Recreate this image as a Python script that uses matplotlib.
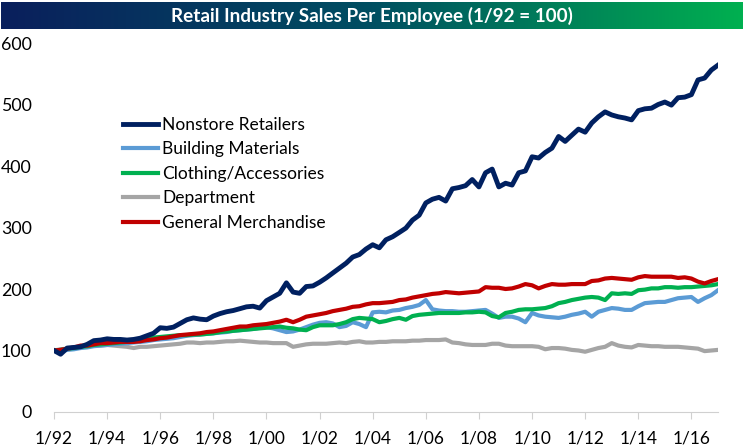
import numpy as np
import pandas as pd
import matplotlib
matplotlib.use('Agg')
import matplotlib.pyplot as plt
import matplotlib.dates as mdates
from matplotlib.colors import LinearSegmentedColormap
from matplotlib.ticker import FuncFormatter, MultipleLocator

# quarterly readings, 1/92 .. 1/17
dates = pd.date_range('1992-01-01', periods=101, freq='QS')

nonstore = [100, 94, 104, 105, 106, 110, 116, 117, 119, 118, 118, 117,
            118, 120, 124, 128, 137, 136, 138, 144, 150, 153, 151, 150,
            156, 160, 163, 165, 168, 171, 172, 169, 181, 187, 193, 210,
            195, 193, 204, 205, 211, 218, 226, 234, 242, 252, 256, 265,
            272, 267, 280, 285, 292, 299, 312, 320, 340, 346, 349, 343,
            363, 365, 368, 378, 366, 389, 395, 366, 372, 369, 389, 392,
            415, 413, 422, 429, 448, 440, 450, 460, 455, 470, 480, 488,
            483, 480, 478, 475, 490, 493, 494, 500, 504, 499, 511, 512,
            516, 540, 543, 556, 564]

building = [100, 99, 101, 102, 104, 105, 107, 108, 109, 110, 111, 112,
            113, 114, 115, 117, 118, 119, 120, 122, 124, 125, 126, 127,
            128, 129, 130, 132, 133, 134, 135, 137, 138, 136, 133, 130,
            131, 134, 138, 142, 145, 146, 144, 138, 140, 146, 143, 138,
            162, 163, 162, 165, 166, 169, 171, 174, 182, 167, 165, 164,
            164, 163, 163, 164, 165, 166, 160, 153, 155, 155, 152, 146,
            161, 157, 155, 154, 153, 155, 158, 160, 163, 155, 163, 166,
            169, 168, 166, 166, 172, 177, 178, 179, 179, 182, 185, 186,
            187, 179, 185, 190, 198]

clothing = [100, 101, 103, 104, 106, 107, 109, 110, 111, 112, 113, 114,
            115, 117, 119, 121, 122, 123, 124, 125, 125, 126, 126, 127,
            128, 130, 131, 132, 133, 134, 135, 136, 137, 138, 139, 137,
            136, 134, 133, 138, 141, 141, 141, 143, 146, 151, 153, 152,
            151, 146, 148, 151, 153, 150, 156, 158, 159, 160, 161, 161,
            161, 161, 162, 162, 163, 162, 156, 154, 161, 163, 166, 167,
            167, 168, 169, 172, 177, 179, 182, 184, 186, 187, 186, 182,
            193, 192, 193, 192, 198, 199, 201, 201, 203, 203, 202, 203,
            203, 204, 205, 206, 208]

department = [100, 102, 103, 104, 106, 107, 108, 108, 109, 108, 107, 106,
              104, 106, 106, 107, 108, 109, 110, 111, 113, 113, 112, 113,
              113, 114, 115, 115, 116, 115, 114, 113, 113, 112, 112, 112,
              106, 108, 110, 111, 111, 111, 112, 113, 112, 114, 115, 113,
              113, 114, 114, 115, 115, 115, 116, 116, 117, 117, 117, 118,
              113, 112, 110, 109, 109, 109, 111, 111, 108, 107, 107, 107,
              107, 106, 102, 104, 104, 103, 101, 100, 98, 101, 104, 106,
              112, 108, 106, 105, 109, 108, 107, 107, 106, 106, 106, 105,
              104, 103, 99, 100, 101]

general = [100, 101, 103, 105, 108, 108, 110, 112, 112, 113, 114, 114,
           114, 115, 117, 118, 120, 121, 123, 125, 126, 127, 128, 130,
           131, 133, 135, 137, 139, 139, 141, 142, 143, 145, 147, 150,
           146, 150, 155, 157, 159, 161, 164, 166, 168, 171, 172, 175,
           177, 177, 178, 179, 182, 183, 186, 188, 190, 192, 193, 195,
           194, 193, 194, 195, 196, 203, 202, 202, 200, 201, 204, 208,
           206, 201, 205, 208, 207, 207, 208, 208, 208, 213, 214, 217,
           218, 217, 216, 215, 219, 221, 220, 220, 220, 220, 218, 219,
           217, 212, 209, 213, 216]

plt.rcParams['font.family'] = ['Lato', 'DejaVu Sans']

fig = plt.figure(figsize=(7.44, 4.48), dpi=100)
ax = fig.add_axes([54 / 744, 1 - 412 / 448, 664 / 744, 369 / 448])

l_dep, = ax.plot(dates, department, color='#a5a5a5', lw=3, label='Department')
l_bld, = ax.plot(dates, building, color='#5b9bd5', lw=3, label='Building Materials')
l_clo, = ax.plot(dates, clothing, color='#00b050', lw=3, label='Clothing/Accessories')
l_gen, = ax.plot(dates, general, color='#c00000', lw=3, label='General Merchandise')
l_non, = ax.plot(dates, nonstore, color='#002060', lw=3.5, label='Nonstore Retailers')

ax.set_ylim(0, 600)
ax.set_xlim(dates[0], dates[-1])
ax.yaxis.set_major_locator(MultipleLocator(100))
ax.xaxis.set_major_locator(mdates.YearLocator(2))
ax.xaxis.set_major_formatter(FuncFormatter(
    lambda v, p: '1/{:02d}'.format(mdates.num2date(v).year % 100)))

for s in ['top', 'right', 'left']:
    ax.spines[s].set_visible(False)
ax.spines['bottom'].set_color('#d0d0d0')
ax.tick_params(axis='y', length=0, pad=16, labelsize=12.8)
ax.tick_params(axis='x', length=5, color='#d0d0d0', pad=8, labelsize=12.5)

ax.legend(handles=[l_non, l_bld, l_clo, l_dep, l_gen], loc='upper left',
          bbox_to_anchor=(0.104, 0.80), frameon=False, fontsize=12.5,
          handlelength=2.0, handletextpad=0.25, labelspacing=0.49,
          borderpad=0, borderaxespad=0)

# title bar with gradient
tax = fig.add_axes([1 / 744, 1 - 29 / 448, 742 / 744, 27 / 448])
cmap = LinearSegmentedColormap.from_list(
    'bar', [(0, '#0a1f5c'), (0.5, '#004f62'), (1, '#00b050')])
tax.imshow(np.linspace(0, 1, 256).reshape(1, -1), cmap=cmap, aspect='auto',
           extent=(0, 1, 0, 1))
tax.set_xlim(0, 1)
tax.set_ylim(0, 1)
tax.axis('off')
tax.text(0.5, 0.48, 'Retail Industry Sales Per Employee (1/92 = 100)',
         color='white', fontsize=13.6, fontweight='bold',
         ha='center', va='center')

fig.savefig('out.png', dpi=100)
